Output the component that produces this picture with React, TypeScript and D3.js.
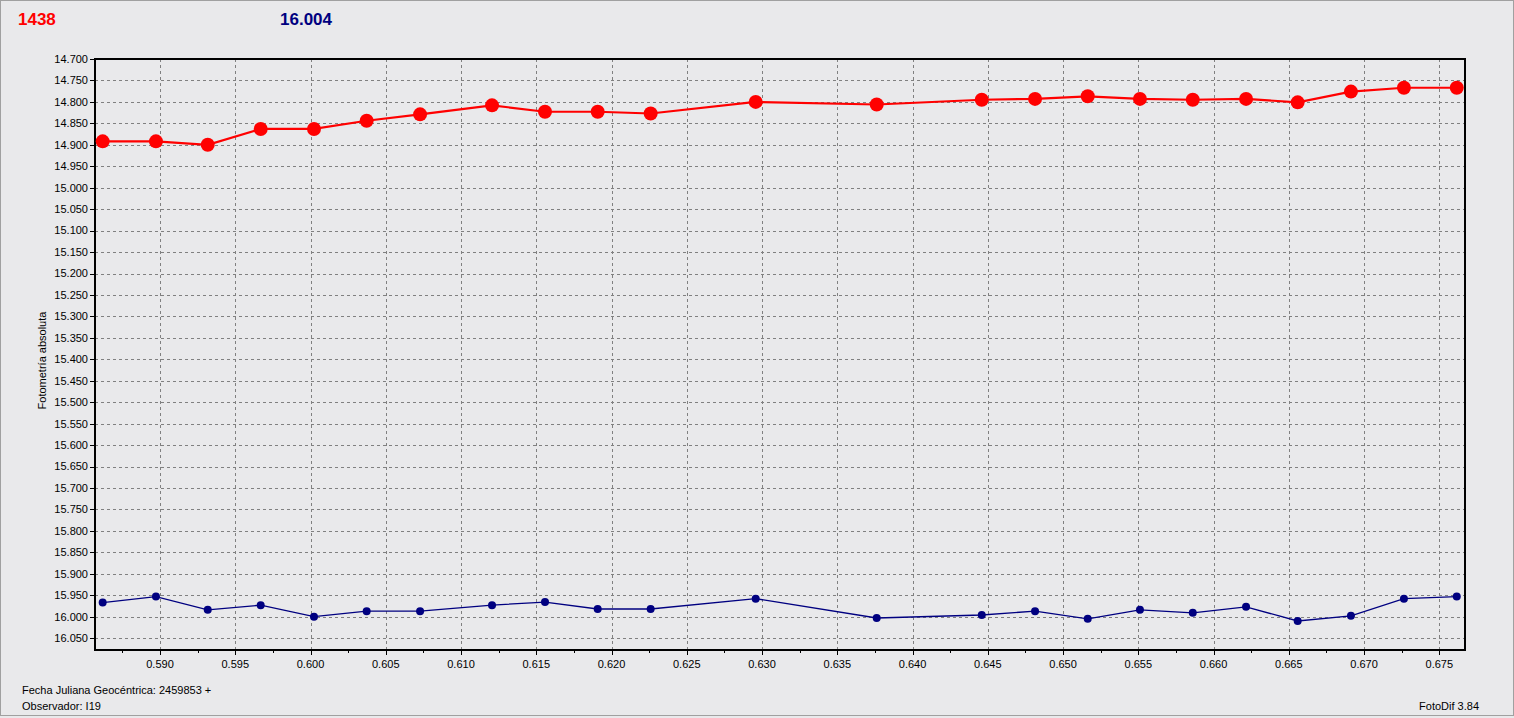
import React from "react";
import * as d3 from "d3";

const jd: number[] = [
  0.58619, 0.58973, 0.59317, 0.59669, 0.60023, 0.60373, 0.60728, 0.61206,
  0.61558, 0.61908, 0.6226, 0.62958, 0.63762, 0.6446, 0.64814, 0.65164,
  0.65511, 0.65862, 0.66216, 0.66559, 0.66913, 0.67265, 0.67616,
];
const targetMag: number[] = [
  14.892, 14.892, 14.9, 14.863, 14.863, 14.844, 14.829, 14.808, 14.823,
  14.823, 14.827, 14.8, 14.806, 14.795, 14.793, 14.787, 14.793, 14.795,
  14.793, 14.801, 14.776, 14.767, 14.767,
];
const compMag: number[] = [
  15.967, 15.953, 15.984, 15.973, 16.0, 15.987, 15.987, 15.973, 15.966,
  15.982, 15.982, 15.958, 16.003, 15.996, 15.987, 16.005, 15.984, 15.991,
  15.977, 16.01, 15.998, 15.958, 15.953,
];
const yTicks: number[] = d3.range(0, 28).map((i) => +(14.7 + i * 0.05).toFixed(3));
const xTicks: number[] = d3.range(0, 18).map((i) => +(0.59 + i * 0.005).toFixed(3));
const xMinor: number[] = d3.range(0, 19).map((i) => +(0.5875 + i * 0.005).toFixed(4));
const headerTarget = "1438";
const headerComp = "16.004";
const yTitle = "Fotometría absoluta";
const footer1 = "Fecha Juliana Geocéntrica: 2459853 +";
const footer2 = "Observador: I19";
const footer3 = "FotoDif 3.84";

const W = 1514;
const H = 718;
const L = 95, T = 59, R = 1465, B = 650;
const FONT = "'Liberation Sans', Arial, sans-serif";

export default function App() {
  const x = d3.scaleLinear().domain([0.58568, 0.676708]).range([L, R]);
  const y = d3.scaleLinear().domain([14.7, 16.0776]).range([T, B]);
  const line = d3
    .line<[number, number]>()
    .x((d) => x(d[0]))
    .y((d) => y(d[1]));
  const red = jd.map((v, i) => [v, targetMag[i]] as [number, number]);
  const blue = jd.map((v, i) => [v, compMag[i]] as [number, number]);
  const midY = (T + B) / 2;

  return (
    <svg
      width={W}
      height={H}
      style={{ position: "absolute", left: 0, top: 0, display: "block" }}
    >
      <rect x={0} y={0} width={W} height={H} fill="#e9e9eb" />
      <rect x={0.5} y={0.5} width={W - 1} height={H - 3} fill="none" stroke="#a0a0a0" />
      <text x={18} y={25} fill="#ff0000" fontFamily={FONT} fontWeight="bold" fontSize={17}>
        {headerTarget}
      </text>
      <text x={280} y={25} fill="#000080" fontFamily={FONT} fontWeight="bold" fontSize={17}>
        {headerComp}
      </text>

      {/* grid */}
      <g stroke="#808080" strokeWidth={1} strokeDasharray="3,3" fill="none">
        {yTicks.map((t) => (
          <line key={"gy" + t} x1={L} x2={R} y1={Math.round(y(t)) + 0.5} y2={Math.round(y(t)) + 0.5} />
        ))}
        {xTicks.map((t) => (
          <line key={"gx" + t} x1={Math.round(x(t)) + 0.5} x2={Math.round(x(t)) + 0.5} y1={T} y2={B} />
        ))}
      </g>

      {/* y ticks and labels */}
      {yTicks.map((t) => (
        <g key={"yt" + t}>
          <line x1={90} x2={L} y1={Math.round(y(t)) + 0.5} y2={Math.round(y(t)) + 0.5} stroke="#000" />
          <text
            x={88}
            y={y(t)}
            dy="0.35em"
            textAnchor="end"
            fontFamily={FONT}
            fontSize={11}
            fill="#000"
          >
            {d3.format(".3f")(t)}
          </text>
        </g>
      ))}

      {/* x ticks and labels */}
      {xMinor.map((t) =>
        x(t) >= L && x(t) <= R ? (
          <line key={"xm" + t} x1={Math.round(x(t)) + 0.5} x2={Math.round(x(t)) + 0.5} y1={B} y2={B + 3} stroke="#000" />
        ) : null
      )}
      {xTicks.map((t) => (
        <g key={"xt" + t}>
          <line x1={Math.round(x(t)) + 0.5} x2={Math.round(x(t)) + 0.5} y1={B} y2={B + 5} stroke="#000" />
          <text
            x={x(t)}
            y={668}
            textAnchor="middle"
            fontFamily={FONT}
            fontSize={11}
            fill="#000"
          >
            {d3.format(".3f")(t)}
          </text>
        </g>
      ))}

      {/* frame */}
      <rect x={L} y={T} width={R - L} height={B - T} fill="none" stroke="#000" strokeWidth={2} />

      {/* series */}
      <path d={line(blue) || ""} fill="none" stroke="#000080" strokeWidth={1.3} />
      {blue.map((d, i) => (
        <circle key={"b" + i} cx={x(d[0])} cy={y(d[1])} r={4} fill="#000080" />
      ))}
      <path d={line(red) || ""} fill="none" stroke="#ff0000" strokeWidth={2.2} />
      {red.map((d, i) => (
        <circle key={"r" + i} cx={x(d[0])} cy={y(d[1])} r={7} fill="#ff0000" />
      ))}

      <text
        transform={`translate(46, ${midY + 6}) rotate(-90)`}
        textAnchor="middle"
        fontFamily={FONT}
        fontSize={11}
        fill="#000"
      >
        {yTitle}
      </text>

      <text x={22} y={694} fontFamily={FONT} fontSize={11} fill="#000">
        {footer1}
      </text>
      <text x={22} y={710} fontFamily={FONT} fontSize={11} fill="#000">
        {footer2}
      </text>
      <text x={1479} y={710} textAnchor="end" fontFamily={FONT} fontSize={11} fill="#000">
        {footer3}
      </text>
    </svg>
  );
}
